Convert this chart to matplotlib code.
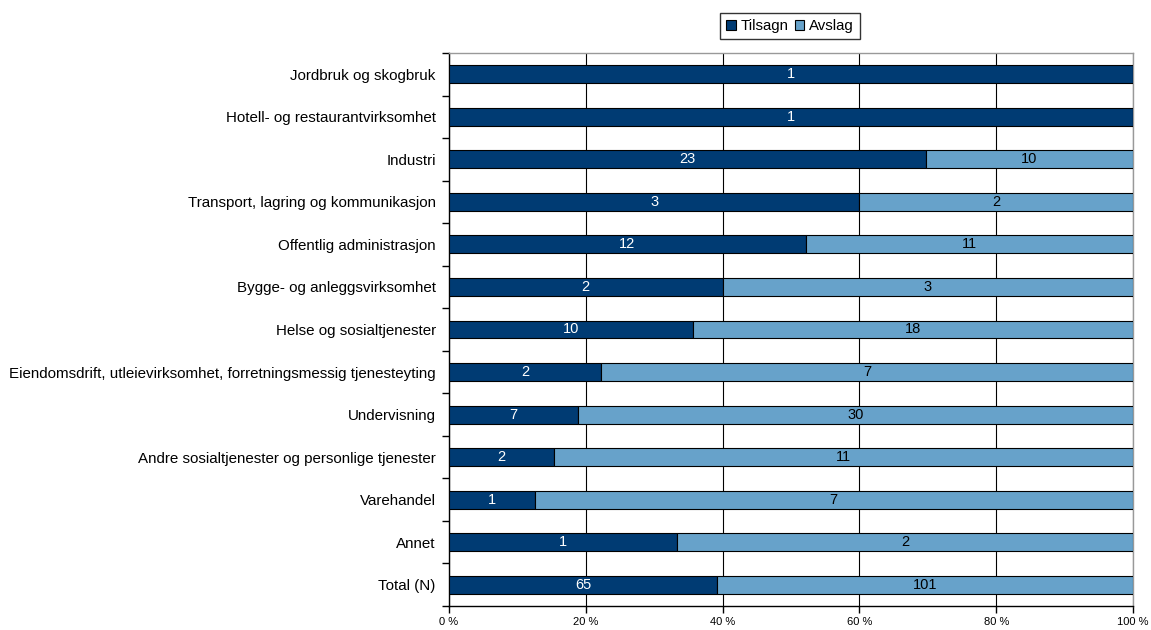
import matplotlib.pyplot as plt
import numpy as np
from matplotlib.patches import Patch

plt.rcParams['font.family'] = ['Liberation Sans', 'DejaVu Sans']

categories = [
    'Jordbruk og skogbruk',
    'Hotell- og restaurantvirksomhet',
    'Industri',
    'Transport, lagring og kommunikasjon',
    'Offentlig administrasjon',
    'Bygge- og anleggsvirksomhet',
    'Helse og sosialtjenester',
    'Eiendomsdrift, utleievirksomhet, forretningsmessig tjenesteyting',
    'Undervisning',
    'Andre sosialtjenester og personlige tjenester',
    'Varehandel',
    'Annet',
    'Total (N)',
]
tilsagn = [1, 1, 23, 3, 12, 2, 10, 2, 7, 2, 1, 1, 65]
avslag = [0, 0, 10, 2, 11, 3, 18, 7, 30, 11, 7, 2, 101]
x_ticks = [0, 20, 40, 60, 80, 100]

dark = '#003B73'
light = '#67A2CA'

t = np.array(tilsagn, dtype=float)
a = np.array(avslag, dtype=float)
tot = t + a
tp = t / tot * 100
ap = a / tot * 100

fig = plt.figure(figsize=(11.51, 6.30), dpi=100)
ax = fig.add_axes([449 / 1151, 1 - 606 / 630, (1133 - 449) / 1151, (606 - 53) / 630])

n = len(categories)
y = np.arange(n)
h = 0.42
ax.barh(y, tp, height=h, color=dark, edgecolor='black', linewidth=0.8, zorder=3)
ax.barh(y, ap, left=tp, height=h, color=light, edgecolor='black', linewidth=0.8, zorder=3)

# value labels: white on the dark part, black on the light part
for i in range(n):
    if t[i] > 0:
        ax.text(tp[i] / 2, y[i], str(tilsagn[i]), ha='center', va='center',
                color='white', fontsize=10.5, zorder=4)
    if a[i] > 0:
        ax.text(tp[i] + ap[i] / 2, y[i], str(avslag[i]), ha='center', va='center',
                color='black', fontsize=10.5, zorder=4)

ax.set_ylim(n - 0.5, -0.5)
ax.set_xlim(0, 100)
ax.set_yticks(y)
ax.set_yticklabels(categories, fontsize=10.9)
ax.tick_params(axis='y', which='major', length=0, pad=9.5)
ax.set_yticks(np.arange(-0.5, n, 1), minor=True)
ax.tick_params(axis='y', which='minor', length=5, width=1, color='black', direction='out')

ax.set_xticks(x_ticks)
ax.set_xticklabels([f'{v} %' for v in x_ticks], fontsize=8)
ax.tick_params(axis='x', length=5, width=1, direction='out', pad=3)

ax.grid(axis='x', color='black', linewidth=0.8, zorder=0)
ax.spines['top'].set_color('#999999')
ax.spines['right'].set_color('#999999')
ax.spines['left'].set_color('black')
ax.spines['bottom'].set_color('black')
for s in ax.spines.values():
    s.set_linewidth(1)

handles = [Patch(facecolor=dark, edgecolor='black', linewidth=0.8, label='Tilsagn'),
           Patch(facecolor=light, edgecolor='black', linewidth=0.8, label='Avslag')]
fig.legend(handles=handles, loc='center', bbox_to_anchor=(790 / 1151, 1 - 26 / 630),
           ncol=2, fontsize=10.8, frameon=True, fancybox=False, edgecolor='black',
           handlelength=0.65, handleheight=0.65, handletextpad=0.3, columnspacing=0.4,
           borderpad=0.4, borderaxespad=0)

fig.savefig('out.png', dpi=100)
